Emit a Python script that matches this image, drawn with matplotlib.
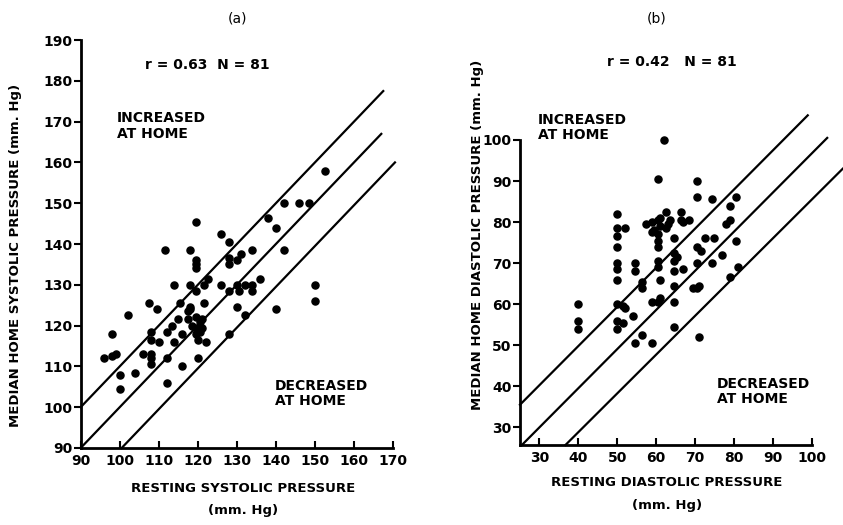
import matplotlib
matplotlib.use("Agg")
import matplotlib.pyplot as plt

# Panel (a): resting vs median home systolic pressure (mm Hg)
sys_rest = [152.5, 142, 146, 148.5, 138, 140, 119.5, 126, 128, 111.5,
	118, 119.5, 119.5, 119.5, 128, 128, 130, 131, 134, 142,
	122.5, 136, 114, 118, 119.5, 121.5, 126, 128, 130, 130.5,
	132, 134, 134, 150, 150, 140, 130, 121.5, 115.5, 107.5,
	109.5, 102, 118, 117.5, 117.5, 119.5, 120.5, 118.5, 119.5, 121,
	119.5, 120, 122, 115, 113.5, 112, 116, 114, 108, 108,
	110, 98, 106, 108, 108, 108, 112, 96, 98, 99,
	100, 104, 100, 116, 120, 112, 128, 132, 118, 120.5, 121]
sys_home = [158, 150, 150, 150, 146.5, 144, 145.5, 142.5, 140.5, 138.5,
	138.5, 136, 135, 134, 136.5, 135, 136, 137.5, 138.5, 138.5,
	131.5, 131.5, 130, 130, 128.5, 130, 130, 128.5, 130, 128.5,
	130, 130, 128.5, 130, 126, 124, 124.5, 125.5, 125.5, 125.5,
	124, 122.5, 124.5, 123.5, 121.5, 122, 121, 120, 119.5, 121.5,
	118, 116.5, 116, 121.5, 120, 118.5, 118, 116, 118.5, 116.5,
	116, 118, 113, 113, 112, 110.5, 112, 112, 112.5, 113,
	108, 108.5, 104.5, 110, 112, 106, 118, 122.5, 124, 118.5, 119.5]

# Panel (b): resting vs median home diastolic pressure (mm Hg)
dia_rest = [62, 60.5, 70.5, 70.5, 74.5, 80.5, 79, 50, 62.5, 66.5,
	66.5, 68.5, 57.5, 59, 60.5, 61, 63.5, 62.5, 59.5, 60.5,
	60.5, 50, 52, 50, 64.5, 79, 78, 72.5, 75, 80.5,
	50, 60.5, 70.5, 71.5, 77, 64.5, 65.5, 64.5, 60.5, 60.5,
	50, 50, 54.5, 54.5, 70.5, 74.5, 64.5, 67, 50, 56.5,
	56.5, 61, 64.5, 69.5, 71, 70.5, 79, 81, 40, 40,
	40, 50, 51.5, 52, 50, 51.5, 50, 54, 59, 60.5,
	61, 64.5, 64.5, 56.5, 54.5, 59, 71, 61, 59, 63, 67]
dia_home = [100, 90.5, 90, 86, 85.5, 86, 84, 82, 82.5, 82.5,
	80.5, 80.5, 79.5, 80, 80.5, 81, 80.5, 78.5, 78, 77,
	75.5, 78.5, 78.5, 76.5, 76, 80.5, 79.5, 76, 76, 75.5,
	74, 74, 74, 73, 72, 72.5, 71.5, 70.5, 70.5, 69,
	70, 68.5, 70, 68, 70, 70, 68, 68.5, 66, 65.5,
	64, 66, 64.5, 64, 64.5, 64, 66.5, 69, 60, 56,
	54, 60, 59.5, 59, 56, 55.5, 54, 57, 60.5, 60.5,
	61.5, 60.5, 54.5, 52.5, 50.5, 50.5, 52, 79, 77.5, 79.5, 80]

# Hand drawn reference lines (x pair, y pair)
sys_lines = [
	([90, 167.5], [100, 177.5]),
	([90, 167], [90, 167]),
	([100.5, 170.5], [90, 160]),
]
dia_lines = [
	([25, 99], [35.5, 106]),
	([25.5, 104], [25.7, 100.5]),
	([36.7, 108], [25.7, 93]),
]

sys_ticks = list(range(90, 171, 10))
sys_yticks = list(range(90, 191, 10))
dia_ticks = list(range(30, 101, 10))
dia_yticks = list(range(30, 101, 10))

plt.rcParams['font.family'] = 'DejaVu Sans'
plt.rcParams['font.weight'] = 'bold'

fig = plt.figure(figsize=(8.43, 5.25), dpi=100)
ax1 = fig.add_axes([0.0957, 0.1467, 0.3705, 0.777])
ax2 = fig.add_axes([0.6168, 0.1524, 0.346, 0.581])

def style_axes(ax, xlim, ylim, xticks, yticks):
	ax.set_xlim(xlim)
	ax.set_ylim(ylim)
	ax.spines['top'].set_visible(False)
	ax.spines['right'].set_visible(False)
	ax.spines['left'].set_linewidth(2)
	ax.spines['bottom'].set_linewidth(2)
	ax.spines['left'].set_bounds(ylim[0], yticks[-1])
	ax.spines['bottom'].set_bounds(xlim[0], xticks[-1])
	ax.set_xticks(xticks)
	ax.set_yticks(yticks)
	ax.tick_params(axis='x', direction='in', length=5, width=1.5, labelsize=10, pad=4)
	ax.tick_params(axis='y', direction='out', length=5, width=1.5, labelsize=10, pad=1)
	ax.set_facecolor('none')

# (a) systolic
for xs, ys in sys_lines:
	ax1.plot(xs, ys, color='black', lw=1.6, clip_on=False)
ax1.scatter(sys_rest, sys_home, s=26, color='black', zorder=3, clip_on=False)
style_axes(ax1, (90, 170), (90, 190), sys_ticks, sys_yticks)
ax1.text(122.4, 183.9, 'r = 0.63  N = 81', ha='center', va='center', fontsize=10)
ax1.text(99.3, 172.5, 'INCREASED\nAT HOME', ha='left', va='top', fontsize=10, linespacing=1.1)
ax1.text(139.8, 107, 'DECREASED\nAT HOME', ha='left', va='top', fontsize=10, linespacing=1.1)

# (b) diastolic
for xs, ys in dia_lines:
	ax2.plot(xs, ys, color='black', lw=1.6, clip_on=False)
ax2.scatter(dia_rest, dia_home, s=26, color='black', zorder=3, clip_on=False)
style_axes(ax2, (25, 100), (25.7, 100), dia_ticks, dia_yticks)
ax2.text(64.1, 118.9, 'r = 0.42   N = 81', ha='center', va='center', fontsize=10, clip_on=False)
ax2.text(29.7, 106.5, 'INCREASED\nAT HOME', ha='left', va='top', fontsize=10, linespacing=1.1, clip_on=False)
ax2.text(75.6, 42.3, 'DECREASED\nAT HOME', ha='left', va='top', fontsize=10, linespacing=1.1)

# Panel letters and axis labels
fig.text(0.282, 0.965, '(a)', ha='center', va='center', fontsize=10, fontweight='normal')
fig.text(0.779, 0.965, '(b)', ha='center', va='center', fontsize=10, fontweight='normal')
fig.text(0.018, 0.514, 'MEDIAN HOME SYSTOLIC PRESSURE (mm. Hg)', rotation=90,
	ha='center', va='center', fontsize=9.5)
fig.text(0.567, 0.552, 'MEDIAN HOME DIASTOLIC PRESSURE (mm. Hg)', rotation=90,
	ha='center', va='center', fontsize=9.5)
fig.text(0.288, 0.070, 'RESTING SYSTOLIC PRESSURE', ha='center', va='center', fontsize=9.5)
fig.text(0.288, 0.028, '(mm. Hg)', ha='center', va='center', fontsize=9.5)
fig.text(0.791, 0.080, 'RESTING DIASTOLIC PRESSURE', ha='center', va='center', fontsize=9.5)
fig.text(0.791, 0.038, '(mm. Hg)', ha='center', va='center', fontsize=9.5)

plt.savefig('out.png', dpi=100)
